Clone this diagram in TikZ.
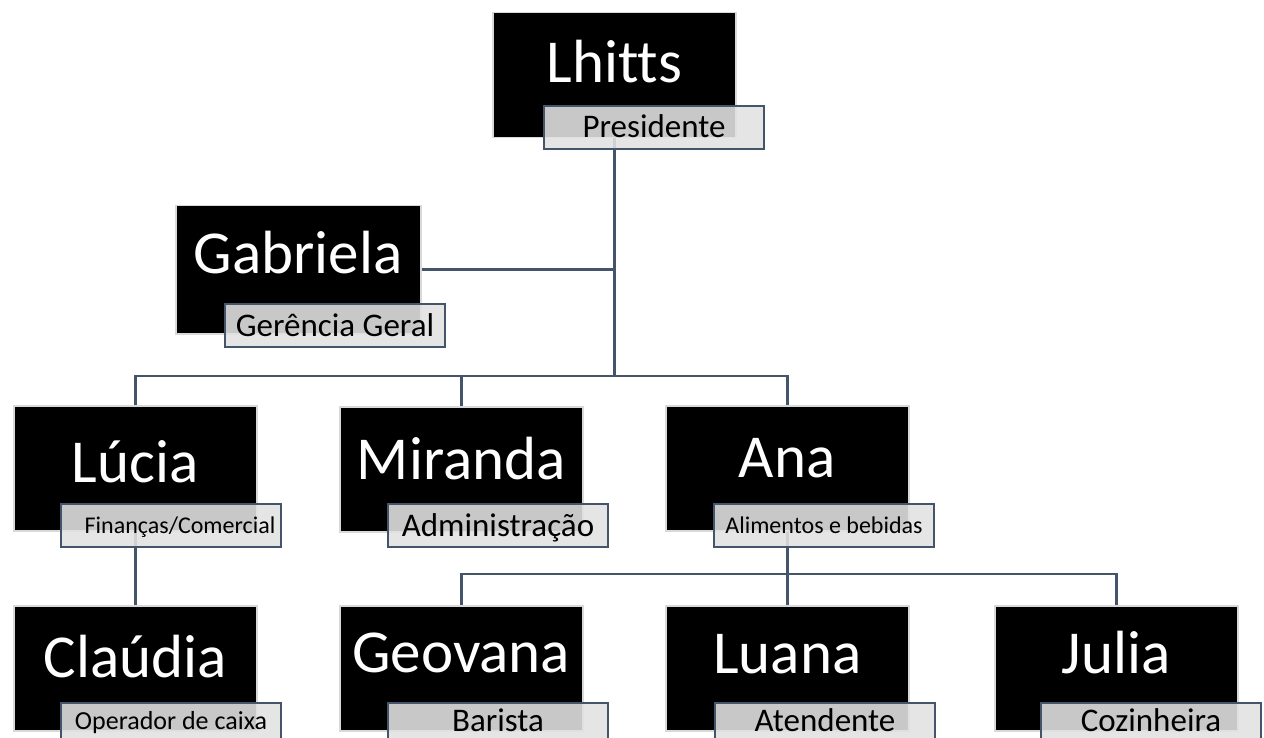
\documentclass[tikz,border=0pt]{standalone}
\usepackage{fontspec}
\setmainfont{Carlito}[Ligatures={NoCommon}]
\usetikzlibrary{calc}
\definecolor{lineblue}{RGB}{68,84,106}
\definecolor{boxedge}{RGB}{217,217,217}
\definecolor{tagfill}{RGB}{226,226,226}
\tikzset{
  personbox/.style={draw=boxedge, line width=1.5pt, fill=black, anchor=north west,
    minimum width=243pt, minimum height=125pt, inner sep=0pt},
  nametext/.style={text=white, font=\fontsize{61}{61}\selectfont, anchor=base, inner sep=0pt},
  tagbox/.style={draw=lineblue, line width=2pt, fill=tagfill, fill opacity=0.886, text opacity=1,
    anchor=north west, minimum width=220pt, minimum height=43pt, inner sep=0pt,
    text height=21pt, text depth=0pt, font=\fontsize{33}{33}\selectfont},
  smalltag/.style={text height=15.5pt, font=\fontsize{24}{24}\selectfont},
  midtag/.style={text height=16.8pt, font=\fontsize{26}{26}\selectfont},
  lowtag/.style={text depth=7pt},
  link/.style={draw=lineblue, line width=2.5pt},
}
\begin{document}
\begin{tikzpicture}[x=1pt,y=-1pt]
\useasboundingbox (0,0) rectangle (1264,738);
\clip (0,0) rectangle (1264,738);
% boxes
\node[personbox] (lh) at (492,12) {};
\node[personbox, minimum width=245pt, minimum height=128pt] (ga) at (175,205) {};
\node[personbox] (lu) at (13,405) {};
\node[personbox] (mi) at (339,406) {};
\node[personbox] (an) at (665,405) {};
\node[personbox] (cl) at (13,605) {};
\node[personbox] (ge) at (339,605) {};
\node[personbox] (lua) at (665,605) {};
\node[personbox] (ju) at (994,605) {};
% names
\node[nametext] (lhN) at ($(lh.north)+(0,71)$) {Lhitts};
\node[nametext] (gaN) at ($(ga.north)+(0,68)$) {Gabriela};
\node[nametext] (luN) at ($(lu.north)+(0,77)$) {Lúcia};
\node[nametext] (miN) at ($(mi.north)+(0,73)$) {Miranda};
\node[nametext] (anN) at ($(an.north)+(0,72)$) {Ana};
\node[nametext] (clN) at ($(cl.north)+(0,72)$) {Claúdia};
\node[nametext] (geN) at ($(ge.north)+(0,67)$) {Geovana};
\node[nametext] (luaN) at ($(lua.north)+(0,68)$) {Luana};
\node[nametext] (juN) at ($(ju.north)+(0,68)$) {Julia};
% connectors
\coordinate (bus1) at (613,376);
\coordinate (bus2) at (787,574);
\draw[link] (lh.south) -- (lh.south |- bus1);
\draw[link] (ga.east) -- (ga.east -| lh.south);
\draw[link] (lu.north) |- (bus1) -| (an.north);
\draw[link] (mi.north) -- (mi.north |- bus1);
\draw[link] (lu.south) -- (cl.north);
\draw[link] (an.south) -- (an.south |- bus2);
\draw[link] (ge.north) |- (bus2) -| (ju.north);
\draw[link] (lua.north) -- (lua.north |- bus2);
% tags
\node[tagbox] (lhT) at (543,105) {Presidente};
\node[tagbox] (gaT) at (224,303) {Gerência Geral};
\node[tagbox, smalltag] (luT) at (60,503) {\hspace*{18pt}Finanças/Comercial};
\node[tagbox] (miT) at (387,503) {Administração};
\node[tagbox, smalltag] (anT) at (713,503) {Alimentos e bebidas};
\node[tagbox, midtag, lowtag] (clT) at (60,702) {Operador de caixa};
\node[tagbox, lowtag] (geT) at (387,702) {Barista};
\node[tagbox, lowtag] (luaT) at (714,702) {Atendente};
\node[tagbox, lowtag] (juT) at (1040,702) {Cozinheira};
\end{tikzpicture}
\end{document}
